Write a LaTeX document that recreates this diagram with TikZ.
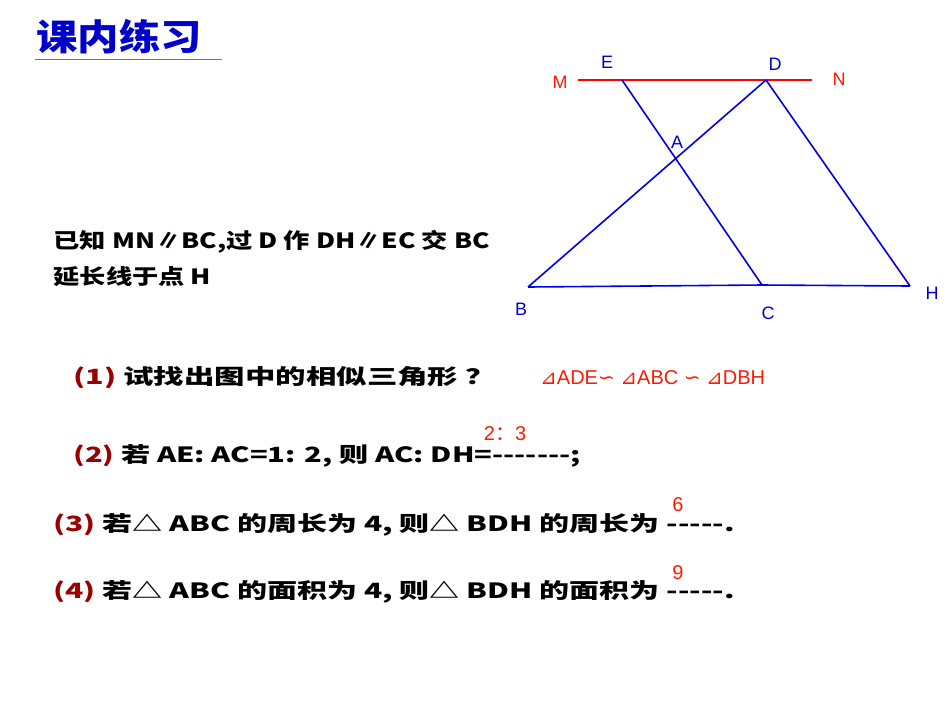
\documentclass[tikz,border=0pt]{standalone}
\usepackage{fontspec}
\setmainfont{Liberation Sans}
\newfontfamily\cjk{Noto Sans CJK SC}
\newfontfamily\djvfont{DejaVu Sans}
\newcommand{\wide}[2]{\scalebox{#1}[1]{#2}}
\begin{document}
\begin{tikzpicture}[x=1pt,y=-1pt,
  geo/.style={draw=blue!90!black,line width=1.6pt},
  lab/.style={font=\fontsize{18}{18}\selectfont},
  txt/.style={anchor=west,font=\cjk\fontsize{21}{21}\selectfont\bfseries},
  ans/.style={text=orange!20!red,font=\fontsize{20}{20}\selectfont,inner sep=0pt}]
\useasboundingbox (0,0) rectangle (950,713);
\node[anchor=west,text=blue!80!black,font=\cjk\fontsize{36}{36}\selectfont\bfseries] (title) at (33,37) {\scalebox{1.15}[1]{课内练习}};
\draw[blue!60,line width=1pt] (35,59) coordinate (u1) -- (222,59) coordinate (u2);
\coordinate (M) at (578,80); \coordinate (N) at (812,80);
\coordinate (E) at (622,80); \coordinate (D) at (766,80);
\coordinate (B) at (528,287); \coordinate (C) at (762,285); \coordinate (H) at (910,286);
\draw[red,line width=1.6pt] (M) -- (N);
\draw[geo] (E) -- (C) (D) -- (B) (D) -- (H) (B) -- (C) -- (H);
\node[lab,text=orange!20!red] at (560,82) {M};
\node[lab,text=orange!20!red] at (839,79) {N};
\node[lab,text=blue!80!black] at (607,62) {E};
\node[lab,text=blue!80!black] at (775,64) {D};
\node[lab,text=blue!80!black] at (677,142) {A};
\node[lab,text=blue!80!black] at (521,309) {B};
\node[lab,text=blue!80!black] at (768,313) {C};
\node[lab,text=blue!80!black] at (932,293) {H};
\node[txt] (g1) at (50,242) {\wide{1.25}{已知 MN∥BC,过 D 作 DH∥EC 交 BC}};
\node[txt] (g2) at (50,277) {\wide{1.25}{延长线于点 H}};
\node[txt] (q1) at (70,378) {\wide{1.45}{\textcolor{red!60!black}{(1)} 试找出图中的相似三角形 ？}};
\node[ans,anchor=west] (a1) at (540,378) {{\djvfont ⊿}ADE{\djvfont ∽} {\djvfont ⊿}ABC {\djvfont ∽} {\djvfont ⊿}DBH};
\node[txt] (q2) at (70,456) {\wide{1.39}{\textcolor{red!60!black}{(2)} 若 AE: AC=1: 2, 则 AC: DH=-------;}};
\node[ans] (a2) at (505,434) {2{\cjk ：}3};
\node[txt] (q3) at (50,525) {\wide{1.43}{\textcolor{red!60!black}{(3)} 若△ ABC 的周长为 4, 则△ BDH 的周长为 -----.}};
\node[ans] (a3) at (678,505) {6};
\node[txt] (q4) at (50,592) {\wide{1.43}{\textcolor{red!60!black}{(4)} 若△ ABC 的面积为 4, 则△ BDH 的面积为 -----.}};
\node[ans] (a4) at (678,573) {9};
\end{tikzpicture}
\end{document}
